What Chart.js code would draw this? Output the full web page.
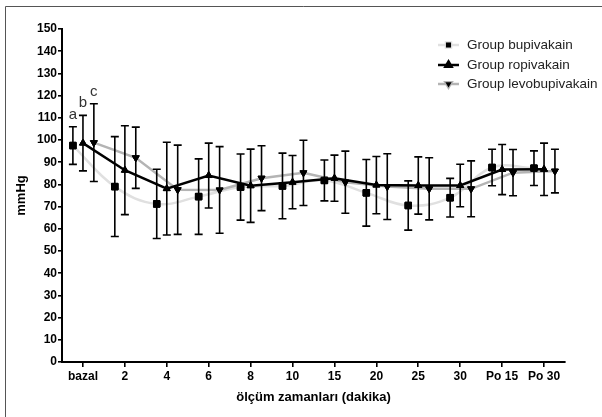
<!DOCTYPE html>
<html lang="tr">
<head>
    <meta charset="UTF-8">
    <title>mmHg - ölçüm zamanları</title>
    <script src="https://cdn.jsdelivr.net/npm/chart.js"></script>
    <style>
        html, body { margin: 0; padding: 0; background: #fff; }
        #wrap { width: 602px; height: 417px; position: relative; }
    </style>
</head>
<body>
    <div id="wrap">
        <canvas id="mapChart" width="602" height="417"></canvas>
    </div>

    <script>
        // time points
        const labels = ['bazal', '2', '4', '6', '8', '10', '15', '20', '25', '30', 'Po 15', 'Po 30'];

        // mean and SD per group (mmHg)
        const bupiMean = [97.5, 79.0, 71.2, 74.5, 78.8, 79.3, 81.8, 76.2, 70.5, 74.0, 87.6, 87.3];
        const bupiSd   = [8.5, 22.5, 15.6, 17.0, 14.9, 14.8, 9.2, 15.0, 11.1, 8.7, 8.2, 7.8];

        const ropiMean = [98.6, 86.4, 78.1, 84.0, 79.4, 81.0, 82.8, 79.7, 79.5, 79.5, 86.7, 86.8];
        const ropiSd   = [12.5, 20.0, 20.9, 14.6, 16.5, 12.0, 10.4, 12.9, 12.9, 9.6, 11.3, 11.8];

        const levoMean = [98.8, 92.0, 77.6, 77.5, 82.8, 85.2, 81.0, 79.0, 78.0, 78.0, 85.3, 86.0];
        const levoSd   = [17.5, 13.8, 20.1, 19.5, 14.6, 14.7, 14.0, 14.8, 14.0, 12.6, 10.4, 9.8];

        const seriesNames = ['Group bupivakain', 'Group ropivakain', 'Group levobupivakain'];
        const bazalLetters = ['a', 'b', 'c'];

        const FONT = "'Liberation Sans', Arial, Helvetica, sans-serif";

        // small horizontal shift so the three groups do not overlap
        const shifts = [-0.24, 0, 0.26];

        function toPoints(means, shift) {
            return means.map((v, i) => ({ x: i + shift, y: v }));
        }

        const groups = [
            { mean: bupiMean, sd: bupiSd, color: '#e0e0e0', style: 'rect', radius: 4.6, rotation: 0, tension: 0.4, order: 2 },
            { mean: ropiMean, sd: ropiSd, color: '#000000', style: 'triangle', radius: 4, rotation: 0, tension: 0, order: 0 },
            { mean: levoMean, sd: levoSd, color: '#b4b4b4', style: 'triangle', radius: 4, rotation: 180, tension: 0, order: 1 }
        ];

        const datasets = groups.map((g, k) => ({
            label: seriesNames[k],
            data: toPoints(g.mean, shifts[k]),
            borderColor: g.color,
            borderWidth: 2.5,
            tension: g.tension,
            pointStyle: g.style,
            pointRadius: g.radius,
            pointRotation: g.rotation,
            pointBackgroundColor: '#000',
            pointBorderColor: '#000',
            pointBorderWidth: 1,
            order: g.order
        }));

        // error bars (mean ± SD) and the a/b/c marks above bazal
        const errorBars = {
            id: 'errorBars',
            afterDatasetsDraw(chart) {
                const ctx = chart.ctx;
                const xs = chart.scales.x, ys = chart.scales.y;
                ctx.save();
                ctx.strokeStyle = '#000';
                ctx.lineWidth = 1.6;
                groups.forEach((g, k) => {
                    g.mean.forEach((m, i) => {
                        const x = xs.getPixelForValue(i + shifts[k]);
                        const top = ys.getPixelForValue(m + g.sd[i]);
                        const bot = ys.getPixelForValue(m - g.sd[i]);
                        ctx.beginPath();
                        ctx.moveTo(x, top); ctx.lineTo(x, bot);
                        ctx.moveTo(x - 4, top); ctx.lineTo(x + 4, top);
                        ctx.moveTo(x - 4, bot); ctx.lineTo(x + 4, bot);
                        ctx.stroke();
                    });
                    // letter above first error bar
                    const lx = xs.getPixelForValue(shifts[k]);
                    const ly = ys.getPixelForValue(g.mean[0] + g.sd[0]) - 12;
                    ctx.fillStyle = '#333';
                    ctx.font = '15px ' + FONT;
                    ctx.textAlign = 'center';
                    ctx.textBaseline = 'middle';
                    ctx.fillText(bazalLetters[k], lx, ly);
                });
                // redraw points on top of the bars
                chart.getSortedVisibleDatasetMetas().forEach(meta => {
                    meta.data.forEach(el => el.draw(ctx, chart.chartArea));
                });
                ctx.restore();
            }
        };

        // legend in the top right corner, line + marker like the original
        const sideLegend = {
            id: 'sideLegend',
            afterDraw(chart) {
                const ctx = chart.ctx;
                ctx.save();
                const rows = [45, 65, 84];
                groups.forEach((g, k) => {
                    const y = rows[k];
                    ctx.strokeStyle = g.color;
                    ctx.lineWidth = 2.5;
                    ctx.beginPath();
                    ctx.moveTo(438, y); ctx.lineTo(459, y);
                    ctx.stroke();
                    Chart.helpers.drawPoint(ctx, {
                        pointStyle: g.style, radius: 3.6, rotation: g.rotation, borderWidth: 1
                    }, 448.5, y);
                    ctx.fillStyle = '#000';
                    ctx.fill();
                    ctx.fillStyle = '#222';
                    ctx.font = '13.5px ' + FONT;
                    ctx.textAlign = 'left';
                    ctx.textBaseline = 'middle';
                    ctx.fillText(seriesNames[k], 467, y);
                });
                ctx.restore();
            }
        };

        // thin frame on the left and top
        const frame = {
            id: 'frame',
            afterDraw(chart) {
                const ctx = chart.ctx;
                ctx.save();
                ctx.strokeStyle = '#555';
                ctx.lineWidth = 1;
                ctx.beginPath();
                ctx.moveTo(5.5, 417); ctx.lineTo(5.5, 6.5); ctx.lineTo(602, 6.5);
                ctx.stroke();
                ctx.restore();
            }
        };

        new Chart(document.getElementById('mapChart').getContext('2d'), {
            type: 'line',
            data: { datasets: datasets },
            options: {
                responsive: false,
                animation: false,
                devicePixelRatio: 1,
                layout: { padding: { left: 10, right: 37, top: 29, bottom: 12 } },
                plugins: { legend: { display: false }, tooltip: { enabled: false } },
                scales: {
                    x: {
                        type: 'linear',
                        min: -0.5,
                        max: 11.5,
                        afterBuildTicks: scale => { scale.ticks = labels.map((_, i) => ({ value: i })); },
                        afterFit: scale => { scale.height = 43; },
                        ticks: {
                            callback: v => labels[v],
                            color: '#000',
                            font: { family: FONT, size: 12, weight: 'bold' },
                            padding: 2,
                            maxRotation: 0,
                            autoSkip: false
                        },
                        grid: { display: true, drawOnChartArea: false, color: '#000', lineWidth: 1.6, tickLength: 5 },
                        border: { display: true, color: '#000', width: 2 },
                        title: {
                            display: true,
                            text: 'ölçüm zamanları (dakika)',
                            color: '#000',
                            font: { family: FONT, size: 13, weight: 'bold' },
                            padding: { top: 4, bottom: 0 }
                        }
                    },
                    y: {
                        min: 0,
                        max: 150,
                        afterFit: scale => { scale.width = 52; },
                        ticks: {
                            stepSize: 10,
                            color: '#000',
                            font: { family: FONT, size: 12, weight: 'bold' },
                            padding: 1
                        },
                        grid: { display: true, drawOnChartArea: false, color: '#000', lineWidth: 1.6, tickLength: 4 },
                        border: { display: true, color: '#000', width: 2 },
                        title: {
                            display: true,
                            text: 'mmHg',
                            color: '#000',
                            font: { family: FONT, size: 13, weight: 'bold' },
                            padding: { top: 4, bottom: 0 }
                        }
                    }
                }
            },
            plugins: [errorBars, sideLegend, frame]
        });
    </script>
</body>
</html>
